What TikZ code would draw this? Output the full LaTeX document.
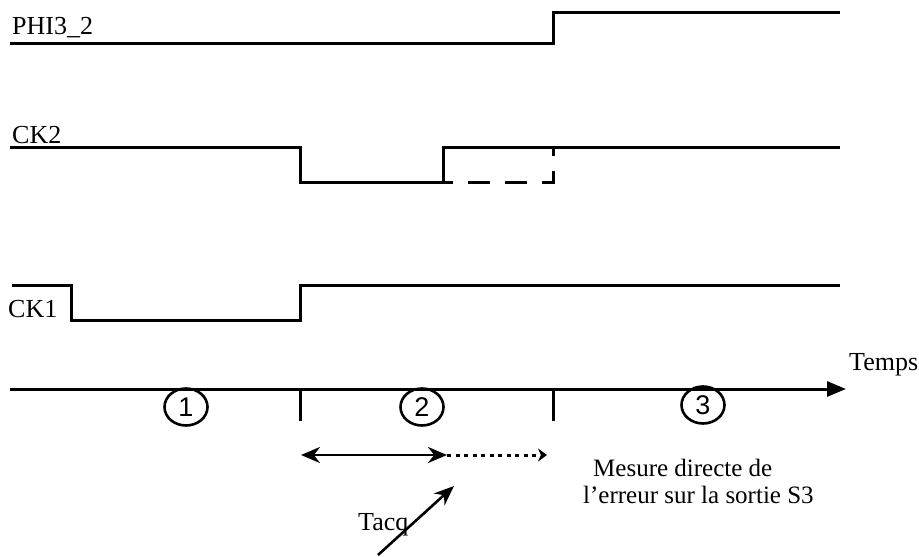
\documentclass[tikz,border=0pt]{standalone}
\usepackage{fontspec}
\setmainfont{Liberation Serif}
\newfontfamily\digitfont{Liberation Sans}
\usetikzlibrary{arrows.meta,shapes.geometric}
\begin{document}
\begin{tikzpicture}[x=1pt,y=-1pt,
  wave/.style={line width=3pt, line join=miter},
  lbl/.style={font=\fontsize{26}{30}\selectfont, inner sep=0pt, anchor=base west},
  note/.style={font=\fontsize{25}{29}\selectfont, inner sep=0pt, anchor=base west},
  phasemark/.style={draw, ellipse, line width=2.6pt, minimum width=43pt, minimum height=37pt,
    inner sep=0pt, font=\digitfont\fontsize{27}{27}\selectfont},
  tickmark/.style={line width=3pt}]
\useasboundingbox (0,0) rectangle (919,557);

% signal names
\node[lbl] (phi) at (12,34) {PHI3\_2};
\node[lbl] (ck2) at (12,143) {CK2};
\node[lbl] (ck1) at (8,317) {CK1};

% PHI3_2 waveform
\draw[wave] (10,43) -- (553,43) -- (553,12) -- (840,12);

% CK2 waveform, with the optional extended low level dashed
\draw[wave] (10,147) -- (300,147) -- (300,182) -- (443,182) -- (443,147) -- (840,147);
\draw[wave, dash pattern=on 22pt off 15pt, dash phase=12pt] (443,182) -- (553,182) -- (553,147);

% CK1 waveform
\draw[wave] (12,285) -- (71,285) -- (71,320) -- (300,320) -- (300,285) -- (840,285);

% time axis
\coordinate (t0) at (10,389);
\coordinate (t1) at (846,389);
\draw[wave, -{Triangle[length=19pt,width=15pt]}] (t0) -- (t1);
\node[lbl] (temps) at (849,370) {Temps};

% phase boundaries
\coordinate (b1) at (300,389);
\coordinate (b1e) at (300,421);
\coordinate (b2) at (553,389);
\coordinate (b2e) at (553,421);
\draw[tickmark] (b1) -- (b1e);
\draw[tickmark] (b2) -- (b2e);

% phase numbers
\node[phasemark] (p1) at (186,407) {1};
\node[phasemark] (p2) at (422,407) {2};
\node[phasemark] (p3) at (703,405) {3};

% acquisition time
\coordinate (a0) at (301,455);
\coordinate (a1) at (447,455);
\coordinate (a2) at (547,455);
\draw[line width=2.6pt, {Stealth[length=19pt,width=16pt]}-{Stealth[length=19pt,width=16pt]}] (a0) -- (a1);
\draw[line width=3pt, dash pattern=on 4pt off 4.5pt, -{Stealth[length=9pt,width=13pt]}] (a1) -- (a2);

\node[lbl] (tacq) at (358,530) {Tacq};
\coordinate (d0) at (378,555);
\coordinate (d1) at (454,486);
\draw[line width=2.6pt, -{Stealth[length=20pt,width=16pt]}] (d0) -- (d1);

% phase 3 note
\node[note] (note1) at (593,476) {Mesure directe de};
\node[note] (note2) at (583,503) {l'erreur sur la sortie S3};
\end{tikzpicture}
\end{document}
